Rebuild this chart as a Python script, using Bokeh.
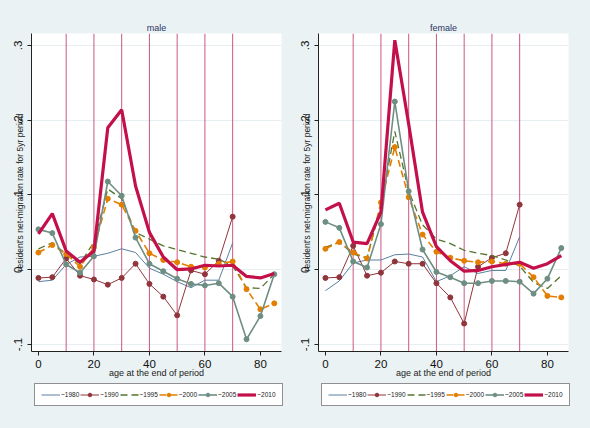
import math
from bokeh.plotting import figure
from bokeh.layouts import row, column
from bokeh.models import FixedTicker, Legend, LegendItem, Span
from bokeh.embed import file_html
from bokeh.resources import INLINE

nan = float("nan")

ages = [0, 5, 10, 15, 20, 25, 30, 35, 40, 45, 50, 55, 60, 65, 70, 75, 80, 85]
periods = ["~1980", "~1990", "~1995", "~2000", "~2005", "~2010"]

# male net-migration rates
m1980 = [-0.016, -0.014, 0.007, 0.017, 0.018, 0.022, 0.028, 0.023, 0.002, -0.006, -0.016, -0.024, -0.014, -0.014, 0.036, nan, nan, nan]
m1990 = [-0.011, -0.010, 0.015, -0.008, -0.013, -0.020, -0.011, 0.008, -0.019, -0.036, -0.061, -0.001, -0.006, 0.012, 0.071, nan, nan, nan]
m1995 = [0.028, 0.036, 0.021, 0.008, 0.037, 0.108, 0.095, 0.050, 0.041, 0.032, 0.027, 0.022, 0.017, 0.014, 0.005, -0.024, -0.025, -0.006]
m2000 = [0.023, 0.033, 0.021, 0.004, 0.030, 0.095, 0.087, 0.052, 0.022, 0.013, 0.010, 0.004, 0.003, 0.008, 0.011, -0.026, -0.053, -0.045]
m2005 = [0.054, 0.049, 0.007, -0.004, 0.018, 0.118, 0.099, 0.043, 0.008, -0.002, -0.012, -0.019, -0.021, -0.018, -0.036, -0.093, -0.062, -0.006]
m2010 = [0.048, 0.075, 0.025, 0.010, 0.025, 0.190, 0.214, 0.112, 0.050, 0.017, 0.000, 0.001, 0.006, 0.005, 0.006, -0.009, -0.011, -0.005]

# female net-migration rates
f1980 = [-0.028, -0.015, 0.009, 0.013, 0.013, 0.020, 0.021, 0.017, -0.016, -0.008, 0.004, -0.005, -0.001, -0.001, 0.044, nan, nan, nan]
f1990 = [-0.011, -0.010, 0.032, -0.008, -0.004, 0.011, 0.008, 0.008, -0.018, -0.037, -0.072, 0.004, 0.016, 0.022, 0.087, nan, nan, nan]
f1995 = [0.030, 0.037, 0.021, 0.016, 0.085, 0.185, 0.105, 0.060, 0.041, 0.035, 0.026, 0.022, 0.019, 0.013, 0.005, -0.017, -0.025, -0.008]
f2000 = [0.028, 0.037, 0.023, 0.015, 0.090, 0.164, 0.097, 0.047, 0.024, 0.016, 0.012, 0.010, 0.011, 0.008, 0.008, -0.010, -0.035, -0.037]
f2005 = [0.064, 0.056, 0.011, 0.003, 0.061, 0.225, 0.105, 0.027, -0.003, -0.010, -0.018, -0.018, -0.015, -0.015, -0.016, -0.032, -0.012, 0.029]
f2010 = [0.080, 0.089, 0.037, 0.035, 0.077, 0.307, 0.195, 0.077, 0.031, 0.012, -0.002, -0.001, 0.004, 0.007, 0.010, 0.002, 0.008, 0.019]

xlines = [10, 20, 30, 40, 50, 60, 70]
xticks = [0, 20, 40, 60, 80]
yticks = [-0.1, 0, 0.1, 0.2, 0.3]
ytick_labels = {-0.1: "-.1", 0: "0", 0.1: ".1", 0.2: ".2", 0.3: ".3"}

BG = "#EAF2F3"
FONT = "Liberation Sans"

styles = [
    dict(color="#5A7FA0", width=1.0, dash="solid", marker=False),
    dict(color="#90353B", width=1.0, dash="solid", marker=True),
    dict(color="#55752F", width=1.3, dash="7 4", marker=False),
    dict(color="#E37E00", width=1.6, dash="7 4", marker=True),
    dict(color="#6E8E84", width=1.6, dash="solid", marker=True),
    dict(color="#C4104A", width=3.2, dash="solid", marker=False),
]


def draw_series(p, xs, ys, st):
    rs = [p.line(xs, ys, line_color=st["color"], line_width=st["width"],
                 line_dash=st["dash"])]
    if st["marker"]:
        rs.append(p.scatter(xs, ys, size=5, fill_color=st["color"],
                            line_color=st["color"]))
    return rs


def make_panel(title, series, left, right):
    p = figure(frame_width=250, frame_height=318, x_range=(-2.5, 87.6), y_range=(-0.1094, 0.316),
               output_backend="svg", toolbar_location=None,
               min_border_left=left, min_border_right=right,
               min_border_top=33, min_border_bottom=32)
    p.background_fill_color = "white"
    p.border_fill_color = BG
    p.outline_line_color = None

    p.title.text = title
    p.title.align = "center"
    p.title.vertical_align = "bottom"
    p.title.standoff = 1
    p.title.text_font_size = "9px"
    p.title.text_font_style = "normal"
    p.title.text_font = FONT
    p.title.text_color = "#2A3566"

    p.xgrid.visible = False
    p.ygrid.ticker = FixedTicker(ticks=yticks)
    p.ygrid.grid_line_color = "#E6EEF1"
    p.ygrid.grid_line_width = 1

    for ax in (p.xaxis[0], p.yaxis[0]):
        ax.axis_line_color = "#222222"
        ax.major_tick_line_color = "#222222"
        ax.major_tick_out = 4
        ax.major_tick_in = 0
        ax.minor_tick_line_color = None
        ax.major_label_text_font = FONT
        ax.major_label_text_font_size = "11.5px"
        ax.major_label_text_color = "#111111"
        ax.axis_label_text_font = FONT
        ax.axis_label_text_font_style = "normal"
        ax.axis_label_text_color = "#222222"

    p.xaxis.ticker = FixedTicker(ticks=xticks)
    p.xaxis.major_label_standoff = 4
    p.xaxis.axis_label = "age at the end of period"
    p.xaxis.axis_label_text_font_size = "9px"
    p.xaxis.axis_label_standoff = -3

    p.yaxis.ticker = FixedTicker(ticks=yticks)
    p.yaxis.major_label_overrides = ytick_labels
    p.yaxis.major_label_orientation = "vertical"
    p.yaxis.major_label_standoff = 5
    p.yaxis.axis_label = "resident's net-migration rate for 5yr period"
    p.yaxis.axis_label_text_font_size = "8.5px"
    p.yaxis.axis_label_standoff = -13

    for xl in xlines:
        p.add_layout(Span(location=xl, dimension="height", line_color="#C23A6B",
                          line_width=1, line_alpha=0.85, level="underlay"))

    for vals, st in zip(series, styles):
        draw_series(p, ages, vals, st)
    return p


def make_legend_fig(width, x0):
    lf = figure(frame_width=width, frame_height=45, x_range=(0, 1), y_range=(0, 1),
                output_backend="svg", toolbar_location=None,
                x_axis_location=None, y_axis_location=None,
                min_border_left=0, min_border_right=0, min_border_top=0, min_border_bottom=0)
    lf.grid.visible = False
    lf.outline_line_color = None
    lf.background_fill_color = BG
    lf.border_fill_color = BG
    items = []
    for lab, st in zip(periods, styles):
        rs = draw_series(lf, [nan], [nan], st)
        items.append(LegendItem(label=lab, renderers=rs))
    legend = Legend(items=items, orientation="horizontal", location=(x0, 22),
                    glyph_width=19, glyph_height=9, label_standoff=1, spacing=1,
                    label_width=0, label_height=0,
                    padding=6, margin=0,
                    label_text_font=FONT, label_text_font_size="6.5px",
                    label_text_color="#222222",
                    border_line_color="#222222", border_line_width=1,
                    background_fill_color="white", background_fill_alpha=1)
    lf.add_layout(legend, "center")
    return lf


pm = make_panel("male", [m1980, m1990, m1995, m2000, m2005, m2010], 31, 9)
pf = make_panel("female", [f1980, f1990, f1995, f2000, f2005, f2010], 28, 22)
lm = make_legend_fig(290, 34)
lfem = make_legend_fig(300, 31)

layout = row(column(pm, lm, spacing=0), column(pf, lfem, spacing=0), spacing=0,
             styles={"background-color": BG})
open("out.html", "w").write(file_html(layout, INLINE))
